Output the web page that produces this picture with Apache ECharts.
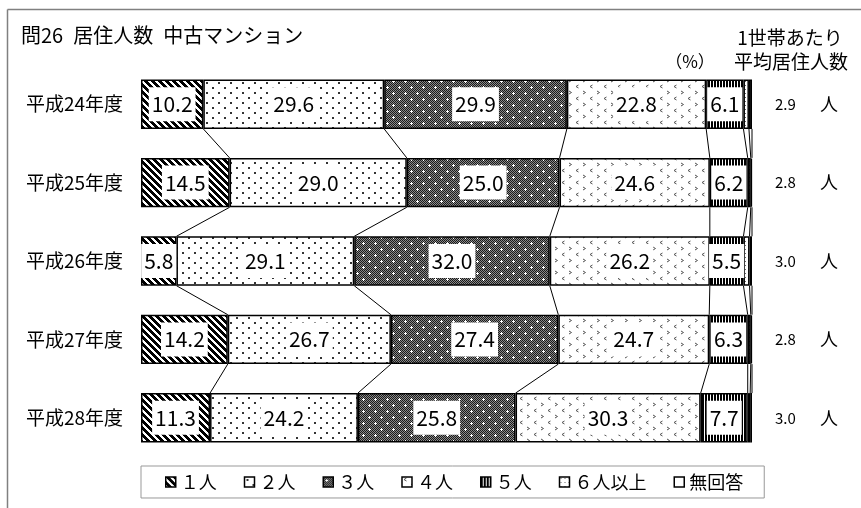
<!DOCTYPE html>
<html>
<head>
<meta charset="utf-8">
<script src="https://cdn.jsdelivr.net/npm/echarts@6/dist/echarts.min.js"></script>
<style>
html,body{margin:0;padding:0;background:#fff;}
#chart{width:861px;height:508px;}
</style>
</head>
<body>
<div id="chart"></div>
<script>
// ---- data ----
const years = ['平成24年度', '平成25年度', '平成26年度', '平成27年度', '平成28年度'];
const seriesNames = ['１人', '２人', '３人', '４人', '５人', '６人以上', '無回答'];
const p1 = [10.2, 14.5, 5.8, 14.2, 11.3];
const p2 = [29.6, 29.0, 29.1, 26.7, 24.2];
const p3 = [29.9, 25.0, 32.0, 27.4, 25.8];
const p4 = [22.8, 24.6, 26.2, 24.7, 30.3];
const p5 = [6.1, 6.2, 5.5, 6.3, 7.7];
const p6 = [0.9, 0.5, 1.0, 0.5, 0.4];
const pNA = [0.5, 0.2, 0.4, 0.2, 0.3];
const avgPersons = ['2.9', '2.8', '3.0', '2.8', '3.0'];
const titleText = '問26\u2002居住人数\u2002中古マンション';
const unitText = '（%）';
const avgHeader1 = '1世帯あたり';
const avgHeader2 = '平均居住人数';
const personUnit = '人';

const allSeries = [p1, p2, p3, p4, p5, p6, pNA];

// ---- patterns ----
function makePattern(w, h, draw) {
  const c = document.createElement('canvas');
  c.width = w; c.height = h;
  const ctx = c.getContext('2d');
  ctx.fillStyle = '#fff';
  ctx.fillRect(0, 0, w, h);
  draw(ctx, w, h);
  return { image: c, repeat: 'repeat' };
}
const patDiag = makePattern(7, 7, (ctx) => {
  ctx.fillStyle = '#000';
  for (let y = 0; y < 7; y++) for (let x = 0; x < 7; x++) {
    if (((x - y + 14) % 7) < 4) ctx.fillRect(x, y, 1, 1);
  }
});
const patDots = makePattern(12, 10, (ctx) => {
  ctx.fillStyle = '#333';
  ctx.fillRect(2, 2, 2, 2);
  ctx.fillRect(8, 7, 2, 2);
});
const patDark = makePattern(12, 12, (ctx) => {
  for (let y = 0; y < 12; y++) for (let x = 0; x < 12; x++) {
    ctx.fillStyle = ((x + y) % 2 === 0) ? '#1a1a1a' : '#8a8a8a';
    ctx.fillRect(x, y, 1, 1);
  }
  ctx.fillStyle = '#fff';
  [[3, 3], [9, 9]].forEach(([cx, cy]) => {
    ctx.fillRect(cx - 1, cy, 3, 1);
    ctx.fillRect(cx, cy - 1, 1, 3);
  });
});
const patChevron = makePattern(14, 12, (ctx) => {
  ctx.strokeStyle = '#555';
  ctx.lineWidth = 1;
  ctx.beginPath();
  ctx.moveTo(4.5, 1); ctx.lineTo(2, 2.5); ctx.lineTo(4.5, 4);
  ctx.moveTo(9, 7); ctx.lineTo(11.5, 8.5); ctx.lineTo(9, 10);
  ctx.stroke();
});
const patVert = makePattern(3, 4, (ctx) => {
  ctx.fillStyle = '#000';
  ctx.fillRect(0, 0, 2, 4);
});
const patFine = makePattern(4, 4, (ctx) => {
  ctx.fillStyle = '#666';
  ctx.fillRect(1, 1, 1, 1);
});
const patterns = [patDiag, patDots, patDark, patChevron, patVert, patFine, '#fff'];

// ---- layout ----
const GAP = 0.37;
const chart = echarts.init(document.getElementById('chart'));
const FONT = '"Noto Sans CJK JP", "Noto Sans", sans-serif';

const barSeries = allSeries.map((vals, k) => ({
  name: seriesNames[k],
  type: 'bar',
  stack: 'total',
  barCategoryGap: (GAP * 100) + '%',
  data: vals,
  z: 3,
  itemStyle: { color: patterns[k], borderColor: '#000', borderWidth: 1.5 },
  label: {
    show: k < 5,
    position: 'inside',
    formatter: (p) => p.value.toFixed(1),
    backgroundColor: '#fff',
    padding: [7, 3, 6, 3],
    color: '#000',
    fontSize: 21,
    fontFamily: FONT
  },
  emphasis: { disabled: true }
}));

// cumulative boundaries for connector lines
const cum = years.map((_, i) => {
  const arr = [];
  let s = 0;
  allSeries.forEach((vals) => { s += vals[i]; arr.push(s); });
  return arr;
});
const connData = [];
for (let i = 0; i < years.length - 1; i++) {
  for (let k = 0; k < allSeries.length; k++) {
    connData.push([cum[i][k], i, cum[i + 1][k]]);
  }
}

const connSeries = {
  type: 'custom',
  name: 'conn',
  z: 1,
  silent: true,
  encode: { x: [0, 2], y: 1 },
  data: connData,
  renderItem: (params, api) => {
    const a = api.coord([api.value(0), api.value(1)]);
    const b = api.coord([api.value(2), api.value(1) + 1]);
    const half = api.size([0, 1])[1] * (1 - GAP) / 2;
    return {
      type: 'line',
      shape: { x1: a[0], y1: a[1] + half, x2: b[0], y2: b[1] - half },
      style: { stroke: '#000', lineWidth: 1 }
    };
  }
};

const option = {
  animation: false,
  backgroundColor: '#fff',
  textStyle: { fontFamily: FONT },
  title: {
    text: titleText,
    left: 21, top: 25, padding: 0,
    textStyle: { fontSize: 20, fontWeight: 'normal', color: '#000', fontFamily: FONT }
  },
  legend: {
    data: seriesNames,
    left: 141, top: 466,
    padding: [7, 21, 7, 24],
    borderColor: '#999', borderWidth: 1,
    itemGap: 27, itemWidth: 10, itemHeight: 10,
    icon: 'rect',
    itemStyle: { borderColor: '#000', borderWidth: 1.5 },
    textStyle: { fontSize: 18, color: '#000', fontFamily: FONT },
    selectedMode: false
  },
  grid: { left: 141, right: 109, top: 65, bottom: 51, containLabel: false },
  xAxis: { type: 'value', min: 0, max: 100, show: false },
  yAxis: [
    {
      type: 'category', data: years, inverse: true,
      axisLine: { show: false }, axisTick: { show: false }, splitLine: { show: false },
      axisLabel: { margin: 18, fontSize: 19, color: '#000', fontFamily: FONT }
    },
    {
      type: 'category', data: years, inverse: true, position: 'right',
      axisLine: { show: false }, axisTick: { show: false }, splitLine: { show: false },
      axisLabel: {
        margin: 23, color: '#000', fontFamily: FONT,
        formatter: (v, idx) => '{n|' + avgPersons[idx] + '}{u|' + personUnit + '}',
        rich: {
          n: { fontSize: 15, width: 45, color: '#000', fontFamily: FONT },
          u: { fontSize: 18, color: '#000', fontFamily: FONT }
        }
      }
    }
  ],
  graphic: [
    { type: 'line', shape: { x1: 7.5, y1: 9.5, x2: 861, y2: 9.5 }, style: { stroke: '#808080', lineWidth: 1.5 } },
    { type: 'line', shape: { x1: 7.5, y1: 9.5, x2: 7.5, y2: 508 }, style: { stroke: '#808080', lineWidth: 1.5 } },
    { type: 'text', x: 690, y: 62, style: { text: unitText, fontSize: 17, fill: '#000', fontFamily: FONT, align: 'center', verticalAlign: 'middle' } },
    { type: 'text', x: 790, y: 38, style: { text: avgHeader1, fontSize: 19, fill: '#000', fontFamily: FONT, align: 'center', verticalAlign: 'middle' } },
    { type: 'text', x: 791, y: 62, style: { text: avgHeader2, fontSize: 19, fill: '#000', fontFamily: FONT, align: 'center', verticalAlign: 'middle' } }
  ],
  series: [connSeries].concat(barSeries)
};
chart.setOption(option);
</script>
</body>
</html>
